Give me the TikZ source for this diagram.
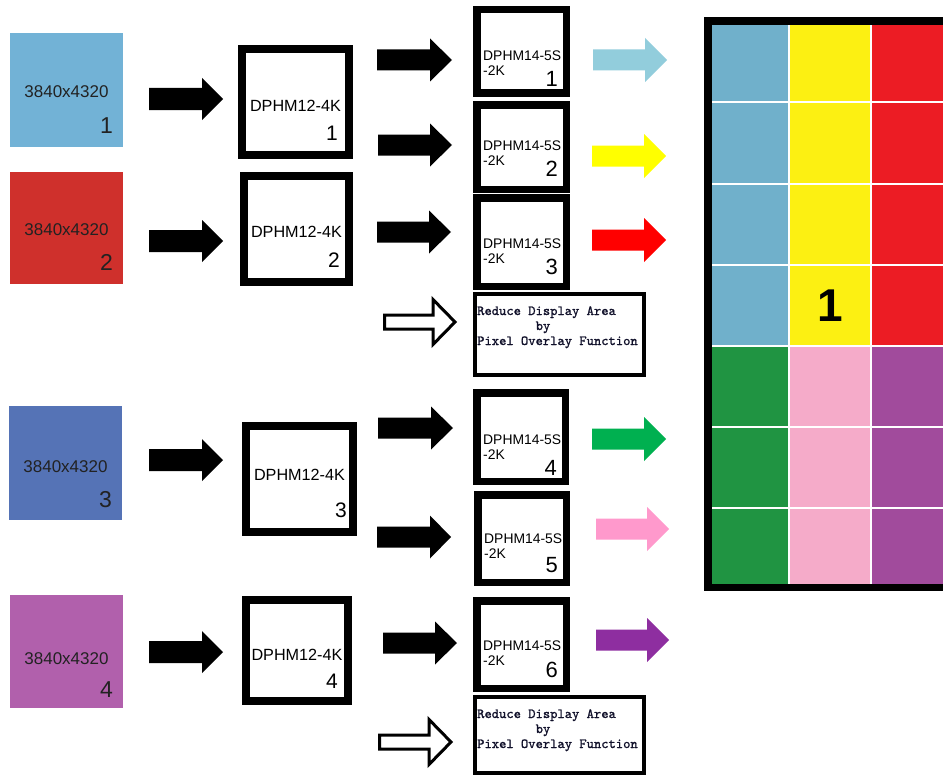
\documentclass[tikz,border=0pt]{standalone}
\usepackage{fontspec}
\setmainfont{Liberation Sans}
\newfontfamily\monobold{lmmono10-regular}[Extension=.otf, FakeBold=1.2]
\definecolor{srcA}{HTML}{72B2D6}
\definecolor{srcB}{HTML}{CF302C}
\definecolor{srcC}{HTML}{5573B6}
\definecolor{srcD}{HTML}{B160AC}
\definecolor{srctext}{HTML}{222222}
\definecolor{arA}{HTML}{92CDDC}
\definecolor{arB}{HTML}{FFFF00}
\definecolor{arC}{HTML}{FF0000}
\definecolor{arD}{HTML}{00B050}
\definecolor{arE}{HTML}{FF99CC}
\definecolor{arF}{HTML}{8E2EA0}
\definecolor{gA}{HTML}{70B0CB}
\definecolor{gB}{HTML}{FCF012}
\definecolor{gC}{HTML}{EC1C24}
\definecolor{gD}{HTML}{209442}
\definecolor{gE}{HTML}{F5ABC9}
\definecolor{gF}{HTML}{A14B9C}
\definecolor{monotext}{HTML}{10102A}
% #1 style, #2 x1, #3 head start, #4 tip, #5 head half height, #6 y centre, #7 shaft half height
\newcommand\blkarrow[7]{\path[#1] (#2,#6-#7) -- (#3,#6-#7) -- (#3,#6-#5) -- (#4,#6) -- (#3,#6+#5) -- (#3,#6+#7) -- (#2,#6+#7) -- cycle;}
\begin{document}
\begin{tikzpicture}[x=1pt,y=-1pt,
  srcbox/.style={inner sep=0pt, outer sep=0pt, draw=none},
  srctxt/.style={text=srctext, inner sep=0pt, font=\fontsize{17}{17}\selectfont},
  srcnum/.style={text=srctext, inner sep=0pt, font=\fontsize{23}{23}\selectfont},
  hmA/.style={draw=black, line width=8pt, fill=white, inner sep=0pt, outer sep=0pt},
  hmAtxt/.style={inner sep=0pt, font=\fontsize{16.2}{16.2}\selectfont},
  hmAnum/.style={inner sep=0pt, font=\fontsize{21}{21}\selectfont},
  hmB/.style={draw=black, line width=7.5pt, fill=white, inner sep=0pt, outer sep=0pt},
  hmBtxt/.style={inner sep=0pt, font=\fontsize{13.9}{13.9}\selectfont},
  hmBnum/.style={inner sep=0pt, font=\fontsize{22}{22}\selectfont},
  redbox/.style={draw=black, line width=4pt, fill=white, inner sep=0pt, outer sep=0pt},
  redtxt/.style={inner sep=0pt, text=monotext, font=\monobold\fontsize{13.9}{13.9}\selectfont},
  solidarrow/.style={fill=black},
  hollowarrow/.style={draw=black, fill=white, line width=3pt, miter limit=10}]
\useasboundingbox (0,0) rectangle (943,776);
\clip (0,0) rectangle (943,776);
\fill[white] (0,0) rectangle (943,776);

% source pictures
\foreach \n/\cx/\cy/\w/\h/\c/\ta/\tb in {1/66.5/90/113/114/srcA/65/100, 2/66.5/228/113/112/srcB/63/98, 3/65.5/463/113/114/srcC/66/101, 4/66.5/651.5/113/113/srcD/69/102}{
  \node[srcbox, fill=\c, minimum width=\w pt, minimum height=\h pt] (src\n) at (\cx,\cy) {};
  \node[srctxt, anchor=base] (srct\n) at (\cx,{\cy-\h/2+\ta}) {3840x4320};
  \node[srcnum, anchor=base east] (srcn\n) at ({\cx+\w/2-10},{\cy-\h/2+\tb}) {\n};
}

% DPHM12-4K boxes
\foreach \n/\cx/\cy/\w/\h/\ta/\tb/\r in {1/295.5/102/115/114/66/95/15, 2/296.5/229/113/114/65/95/13, 3/299.5/479/115/114/58/95/10, 4/297/650.5/110/109/64/92/14}{
  \node[hmA, minimum width={(\w-8)*1pt}, minimum height={(\h-8)*1pt}] (hma\n) at (\cx,\cy) {};
  \node[hmAtxt, anchor=base] (hmat\n) at (\cx,{\cy-\h/2+\ta}) {DPHM12-4K};
  \node[hmAnum, anchor=base east] (hman\n) at ({\cx+\w/2-\r},{\cy-\h/2+\tb}) {\n};
}

% DPHM14-5S-2K boxes
\foreach \n/\xa/\ya/\xb/\yb/\ta/\tb in {1/473/6/570/97/55/80, 2/473/101/570/193/49/75, 3/473/194/570/290/54/80, 4/473/389/569/485/55/86, 5/474/491/570/586/52/81, 6/473/597/570/692/53/80}{
  \node[hmB, minimum width={(\xb-\xa-7.5)*1pt}, minimum height={(\yb-\ya-7.5)*1pt}] (hmb\n) at ({(\xa+\xb)/2},{(\ya+\yb)/2}) {};
  \node[hmBtxt, anchor=base west] (hmbt\n) at ({\xa+10},{\ya+\ta}) {DPHM14-5S};
  \node[hmBtxt, anchor=base west] (hmbk\n) at ({\xa+10},{\ya+\ta+15}) {-2K};
  \node[hmBnum, anchor=base east] (hmbn\n) at ({\xb-12},{\ya+\tb}) {\n};
}

% Reduce Display Area boxes
\foreach \n/\ya/\yb in {1/292/377, 2/695/775}{
  \node[redbox, minimum width=169pt, minimum height={(\yb-\ya-4)*1pt}] (rb\n) at (559.5,{(\ya+\yb)/2}) {};
  \node[redtxt, anchor=base west] (rba\n) at (477,{\ya+23}) {Reduce Display Area};
  \node[redtxt, anchor=base] (rbb\n) at (543,{\ya+38}) {by};
  \node[redtxt, anchor=base west] (rbc\n) at (477,{\ya+53}) {Pixel Overlay Function};
}

% first column arrows
\blkarrow{solidarrow}{149}{202}{223}{21}{99}{11}
\blkarrow{solidarrow}{149}{202}{223}{21}{241}{11}
\blkarrow{solidarrow}{149}{202}{223}{21}{460}{11}
\blkarrow{solidarrow}{149}{202}{223}{21}{652}{11}

% second column arrows
\blkarrow{solidarrow}{377}{430}{452}{21.5}{60}{10.5}
\blkarrow{solidarrow}{378}{430}{452}{21.5}{145}{10.5}
\blkarrow{solidarrow}{377}{429}{451}{21.5}{232}{10.5}
\blkarrow{hollowarrow}{384.5}{433}{455}{22.5}{322}{7}
\blkarrow{solidarrow}{378}{431}{453}{21.5}{428}{10.5}
\blkarrow{solidarrow}{377}{430}{451}{21.5}{537}{10.5}
\blkarrow{solidarrow}{383}{435}{457}{21.5}{643}{10.5}
\blkarrow{hollowarrow}{379.5}{429}{451}{22.5}{742}{7}

% coloured output arrows
\blkarrow{fill=arA}{593}{645}{667}{22}{60}{10.5}
\blkarrow{fill=arB}{592}{644}{666}{22}{156}{10.5}
\blkarrow{fill=arC}{592}{644}{666}{22}{240}{10.5}
\blkarrow{fill=arD}{592}{644}{666}{22}{439}{10.5}
\blkarrow{fill=arE}{596}{647}{669}{22}{529}{10.5}
\blkarrow{fill=arF}{596}{647}{669}{22}{640}{10.5}

% tiled display
\fill[black] (704,17) rectangle (970,591);
\fill[white] (712,25) rectangle (970,584);
\foreach \ya/\yb/\ca/\cb/\cc in {25/101/gA/gB/gC, 103/183/gA/gB/gC, 185/264/gA/gB/gC, 266/345/gA/gB/gC, 347/426/gD/gE/gF, 428/507/gD/gE/gF, 509/584/gD/gE/gF}{
  \fill[\ca] (712,\ya) rectangle (788,\yb);
  \fill[\cb] (790,\ya) rectangle (870,\yb);
  \fill[\cc] (872,\ya) rectangle (970,\yb);
}
\node[inner sep=0pt, font=\bfseries\fontsize{46}{46}\selectfont] (tile1) at (830,306) {1};
\end{tikzpicture}
\end{document}
